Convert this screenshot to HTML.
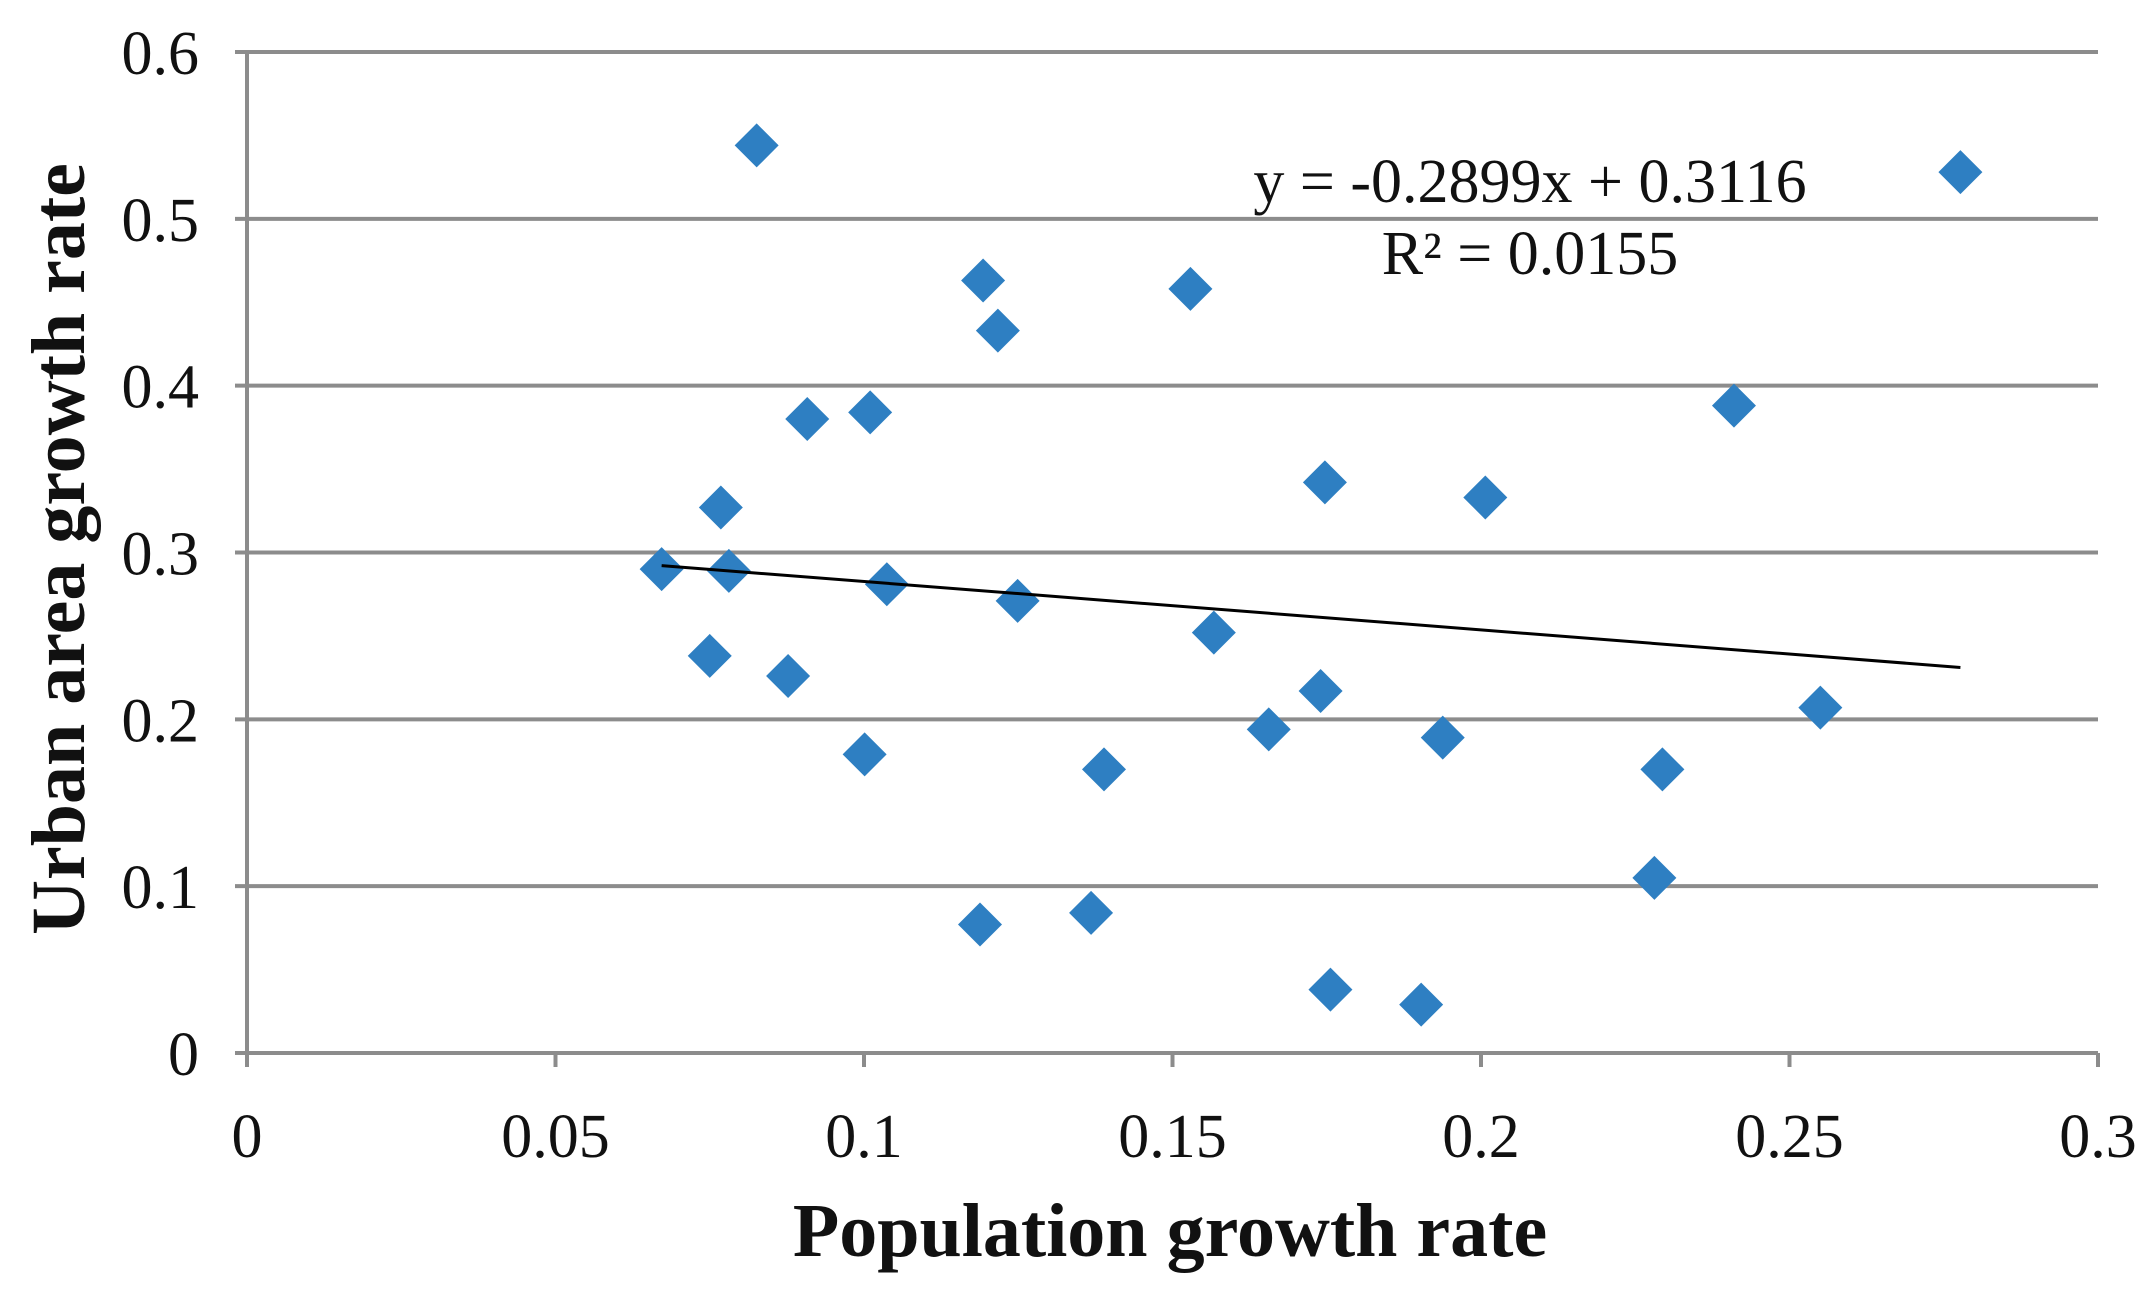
<!DOCTYPE html>
<html><head><meta charset="utf-8"><style>
html,body{margin:0;padding:0;background:#fff;}
svg{display:block;font-family:"Liberation Serif",serif;}
</style></head><body>
<svg id="chart" width="2153" height="1295" viewBox="0 0 2153 1295" xmlns="http://www.w3.org/2000/svg">
<g id="grid"></g>
<g id="axes"></g>
<g id="points"></g>
<g id="trend"></g>
<text x="1530" y="202" font-size="62" text-anchor="middle" fill="#111">y = -0.2899x + 0.3116</text>
<text x="1530" y="274" font-size="62" text-anchor="middle" fill="#111">R² = 0.0155</text>
<text x="1170" y="1256" font-size="76" font-weight="bold" text-anchor="middle" fill="#111">Population growth rate</text>
<text transform="translate(84,549) rotate(-90)" font-size="76" font-weight="bold" text-anchor="middle" fill="#111">Urban area growth rate</text>
</svg>
<script>
const xVals=[0.0826,0.1193,0.1217,0.1529,0.2777,0.0908,0.1010,0.2410,0.0768,0.1747,0.2007,0.0672,0.0781,0.1037,0.1249,0.1567,0.0750,0.0877,0.1740,0.2550,0.1656,0.1938,0.1001,0.1389,0.2294,0.2281,0.1188,0.1368,0.1756,0.1903];
const yVals=[0.544,0.463,0.433,0.458,0.528,0.380,0.384,0.388,0.327,0.342,0.333,0.290,0.289,0.281,0.271,0.252,0.238,0.226,0.217,0.207,0.194,0.189,0.179,0.170,0.170,0.105,0.077,0.084,0.038,0.029];
const xTicks=[0,0.05,0.1,0.15,0.2,0.25,0.3];
const xTickLabels=["0","0.05","0.1","0.15","0.2","0.25","0.3"];
const yTicks=[0,0.1,0.2,0.3,0.4,0.5,0.6];
const yTickLabels=["0","0.1","0.2","0.3","0.4","0.5","0.6"];
const slope=-0.2899, intercept=0.3116;
const L=247,R=2098,T=52,B=1053;
const sx=v=>L+(v-0)/(0.3)*(R-L);
const sy=v=>B-(v-0)/(0.6)*(B-T);
const NS="http://www.w3.org/2000/svg";
function mk(tag,attrs,parent){const e=document.createElementNS(NS,tag);for(const k in attrs)e.setAttribute(k,attrs[k]);parent.appendChild(e);return e;}
const grid=document.getElementById('grid'),axes=document.getElementById('axes'),pts=document.getElementById('points'),trend=document.getElementById('trend');
yTicks.forEach((t,i)=>{
  if(t>0){const g=mk('line',{x1:L-12,x2:R,y1:sy(t),y2:sy(t),stroke:'#8c8c8c','stroke-width':4},grid);
  
  }
  const tx=mk('text',{x:L-48,y:sy(t)+22,'font-size':62,'text-anchor':'end',fill:'#111'},axes);
  tx.textContent=yTickLabels[i];
  
  
});
const xa=mk('line',{x1:L-12,x2:R,y1:B,y2:B,stroke:'#8c8c8c','stroke-width':4},axes);


const ya=mk('line',{x1:L,x2:L,y1:T,y2:B+12,stroke:'#8c8c8c','stroke-width':4},axes);


xTicks.forEach((t,i)=>{
  const tk=mk('line',{x1:sx(t),x2:sx(t),y1:B,y2:B+14,stroke:'#8c8c8c','stroke-width':4},axes);
  
  
  const tx=mk('text',{x:sx(t),y:1157,'font-size':62,'text-anchor':'middle',fill:'#111'},axes);
  tx.textContent=xTickLabels[i];
  
  
});
const minX=Math.min(...xVals),maxX=Math.max(...xVals);
const tl=mk('line',{x1:sx(minX),y1:sy(slope*minX+intercept),x2:sx(maxX),y2:sy(slope*maxX+intercept),stroke:'#000','stroke-width':3},trend);


xVals.forEach((x,i)=>{
  const cx=sx(x),cy=sy(yVals[i]),r=22;
  const p=mk('polygon',{points:`${cx},${cy-r} ${cx+r},${cy} ${cx},${cy+r} ${cx-r},${cy}`,fill:'#2e7fc2'},pts);
  
  
});
</script>
</body></html>
